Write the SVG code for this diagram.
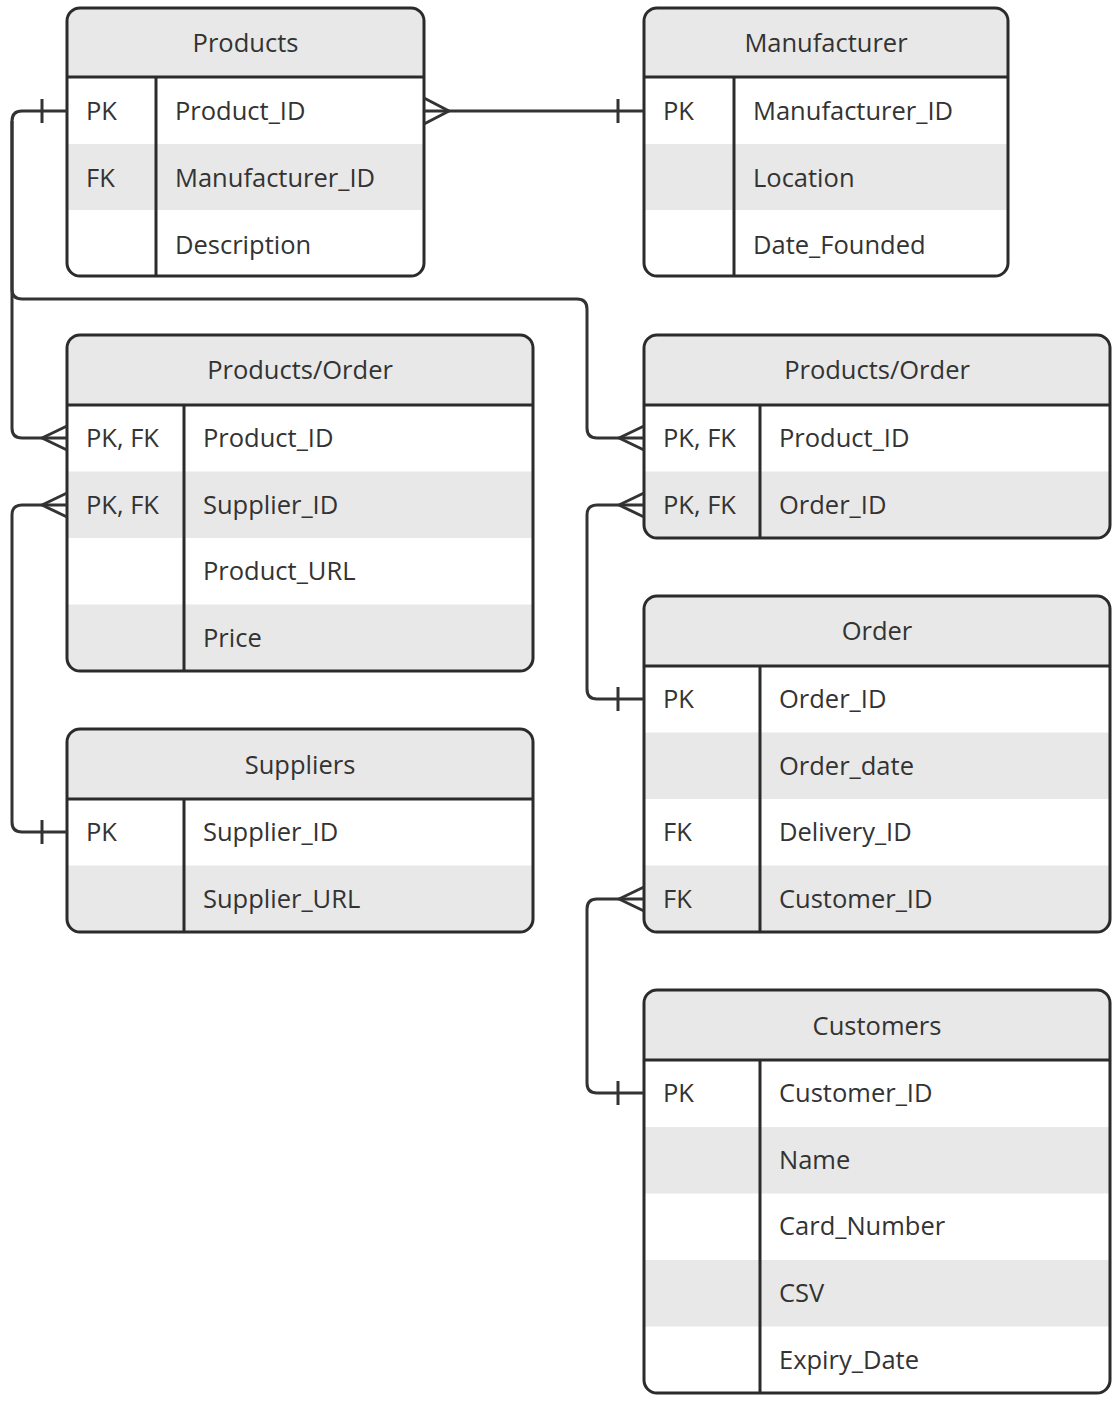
<svg xmlns="http://www.w3.org/2000/svg" width="1114" height="1402" viewBox="0 0 1114 1402">
<style>
.bg{fill:#ffffff}
.gr{fill:#e8e8e8}
.ol{fill:none;stroke:#2b2b2b;stroke-width:3}
.ln{fill:none;stroke:#2b2b2b;stroke-width:3}
.cn{fill:none;stroke:#333333;stroke-width:3;stroke-linejoin:round}
text{font-family:"Open Sans","Noto Sans","DejaVu Sans",sans-serif;font-size:25.5px;fill:#333333}
.h{text-anchor:middle}
</style>
<defs>
<clipPath id="c1"><rect x="67" y="8" width="357" height="268" rx="13"/></clipPath>
<clipPath id="c2"><rect x="644" y="8" width="364" height="268" rx="13"/></clipPath>
<clipPath id="c3"><rect x="67" y="335" width="466" height="336" rx="13"/></clipPath>
<clipPath id="c4"><rect x="644" y="335" width="466" height="203" rx="13"/></clipPath>
<clipPath id="c5"><rect x="67" y="729" width="466" height="203" rx="13"/></clipPath>
<clipPath id="c6"><rect x="644" y="596" width="466" height="336" rx="13"/></clipPath>
<clipPath id="c7"><rect x="644" y="990" width="466" height="403" rx="13"/></clipPath>
</defs>

<g id="products">
<g clip-path="url(#c1)">
<rect class="bg" x="67" y="8" width="357" height="268"/>
<rect class="gr" x="67" y="8" width="357" height="69"/>
<rect class="gr" x="67" y="144" width="357" height="66"/>
</g>
<rect class="ol" x="67" y="8" width="357" height="268" rx="13"/>
<line class="ln" x1="67" y1="77" x2="424" y2="77"/>
<line class="ln" x1="156" y1="77" x2="156" y2="276"/>
<text class="h" x="245.5" y="52">Products</text>
<text x="86" y="120">PK</text><text x="175" y="120">Product_ID</text>
<text x="86" y="187">FK</text><text x="175" y="187">Manufacturer_ID</text>
<text x="175" y="254">Description</text>
</g>

<g id="manufacturer">
<g clip-path="url(#c2)">
<rect class="bg" x="644" y="8" width="364" height="268"/>
<rect class="gr" x="644" y="8" width="364" height="69"/>
<rect class="gr" x="644" y="144" width="364" height="66"/>
</g>
<rect class="ol" x="644" y="8" width="364" height="268" rx="13"/>
<line class="ln" x1="644" y1="77" x2="1008" y2="77"/>
<line class="ln" x1="734" y1="77" x2="734" y2="276"/>
<text class="h" x="826" y="52">Manufacturer</text>
<text x="663" y="120">PK</text><text x="753" y="120">Manufacturer_ID</text>
<text x="753" y="187">Location</text>
<text x="753" y="254">Date_Founded</text>
</g>

<g id="products-order-left">
<g clip-path="url(#c3)">
<rect class="bg" x="67" y="335" width="466" height="336"/>
<rect class="gr" x="67" y="335" width="466" height="70"/>
<rect class="gr" x="67" y="471.5" width="466" height="66.5"/>
<rect class="gr" x="67" y="604.5" width="466" height="67"/>
</g>
<rect class="ol" x="67" y="335" width="466" height="336" rx="13"/>
<line class="ln" x1="67" y1="405" x2="533" y2="405"/>
<line class="ln" x1="184" y1="405" x2="184" y2="671"/>
<text class="h" x="300" y="379">Products/Order</text>
<text x="86" y="447">PK, FK</text><text x="203" y="447">Product_ID</text>
<text x="86" y="514">PK, FK</text><text x="203" y="514">Supplier_ID</text>
<text x="203" y="580">Product_URL</text>
<text x="203" y="647">Price</text>
</g>

<g id="products-order-right">
<g clip-path="url(#c4)">
<rect class="bg" x="644" y="335" width="466" height="203"/>
<rect class="gr" x="644" y="335" width="466" height="70"/>
<rect class="gr" x="644" y="471.5" width="466" height="67"/>
</g>
<rect class="ol" x="644" y="335" width="466" height="203" rx="13"/>
<line class="ln" x1="644" y1="405" x2="1110" y2="405"/>
<line class="ln" x1="760" y1="405" x2="760" y2="538"/>
<text class="h" x="877" y="379">Products/Order</text>
<text x="663" y="447">PK, FK</text><text x="779" y="447">Product_ID</text>
<text x="663" y="514">PK, FK</text><text x="779" y="514">Order_ID</text>
</g>

<g id="suppliers">
<g clip-path="url(#c5)">
<rect class="bg" x="67" y="729" width="466" height="203"/>
<rect class="gr" x="67" y="729" width="466" height="70"/>
<rect class="gr" x="67" y="865.5" width="466" height="67"/>
</g>
<rect class="ol" x="67" y="729" width="466" height="203" rx="13"/>
<line class="ln" x1="67" y1="799" x2="533" y2="799"/>
<line class="ln" x1="184" y1="799" x2="184" y2="932"/>
<text class="h" x="300" y="774">Suppliers</text>
<text x="86" y="841">PK</text><text x="203" y="841">Supplier_ID</text>
<text x="203" y="908">Supplier_URL</text>
</g>

<g id="order">
<g clip-path="url(#c6)">
<rect class="bg" x="644" y="596" width="466" height="336"/>
<rect class="gr" x="644" y="596" width="466" height="70"/>
<rect class="gr" x="644" y="732.5" width="466" height="66.5"/>
<rect class="gr" x="644" y="865.5" width="466" height="67"/>
</g>
<rect class="ol" x="644" y="596" width="466" height="336" rx="13"/>
<line class="ln" x1="644" y1="666" x2="1110" y2="666"/>
<line class="ln" x1="760" y1="666" x2="760" y2="932"/>
<text class="h" x="877" y="640">Order</text>
<text x="663" y="708">PK</text><text x="779" y="708">Order_ID</text>
<text x="779" y="775">Order_date</text>
<text x="663" y="841">FK</text><text x="779" y="841">Delivery_ID</text>
<text x="663" y="908">FK</text><text x="779" y="908">Customer_ID</text>
</g>

<g id="customers">
<g clip-path="url(#c7)">
<rect class="bg" x="644" y="990" width="466" height="403"/>
<rect class="gr" x="644" y="990" width="466" height="70"/>
<rect class="gr" x="644" y="1127" width="466" height="66.5"/>
<rect class="gr" x="644" y="1260" width="466" height="66.5"/>
</g>
<rect class="ol" x="644" y="990" width="466" height="403" rx="13"/>
<line class="ln" x1="644" y1="1060" x2="1110" y2="1060"/>
<line class="ln" x1="760" y1="1060" x2="760" y2="1393"/>
<text class="h" x="877" y="1035">Customers</text>
<text x="663" y="1102">PK</text><text x="779" y="1102">Customer_ID</text>
<text x="779" y="1169">Name</text>
<text x="779" y="1235">Card_Number</text>
<text x="779" y="1302">CSV</text>
<text x="779" y="1369">Expiry_Date</text>
</g>

<g id="connectors">
<!-- Products PK to Products/Order left -->
<path class="cn" d="M67,111 H22 Q12,111 12,121 V428 Q12,438 22,438 H67"/>
<line class="cn" x1="42" y1="99" x2="42" y2="123"/>
<path class="cn" d="M67,426 L42,438 L67,450"/>
<!-- Products PK to Products/Order right -->
<path class="cn" d="M12,121 V289 Q12,299 22,299 H577 Q587,299 587,309 V428 Q587,438 597,438 H644"/>
<path class="cn" d="M644,426 L619,438 L644,450"/>
<!-- Products to Manufacturer -->
<path class="cn" d="M424,111 H644"/>
<path class="cn" d="M424,98 L449,111 L424,124"/>
<line class="cn" x1="618" y1="99" x2="618" y2="123"/>
<!-- Products/Order left Supplier_ID to Suppliers PK -->
<path class="cn" d="M67,505 H22 Q12,505 12,515 V822 Q12,832 22,832 H67"/>
<path class="cn" d="M67,493 L42,505 L67,517"/>
<line class="cn" x1="42" y1="820" x2="42" y2="844"/>
<!-- Products/Order right Order_ID to Order PK -->
<path class="cn" d="M644,505 H597 Q587,505 587,515 V689 Q587,699 597,699 H644"/>
<path class="cn" d="M644,493 L619,505 L644,517"/>
<line class="cn" x1="618" y1="687" x2="618" y2="711"/>
<!-- Order Customer_ID to Customers PK -->
<path class="cn" d="M644,899 H597 Q587,899 587,909 V1083 Q587,1093 597,1093 H644"/>
<path class="cn" d="M644,887 L619,899 L644,911"/>
<line class="cn" x1="618" y1="1081" x2="618" y2="1105"/>
</g>
</svg>
